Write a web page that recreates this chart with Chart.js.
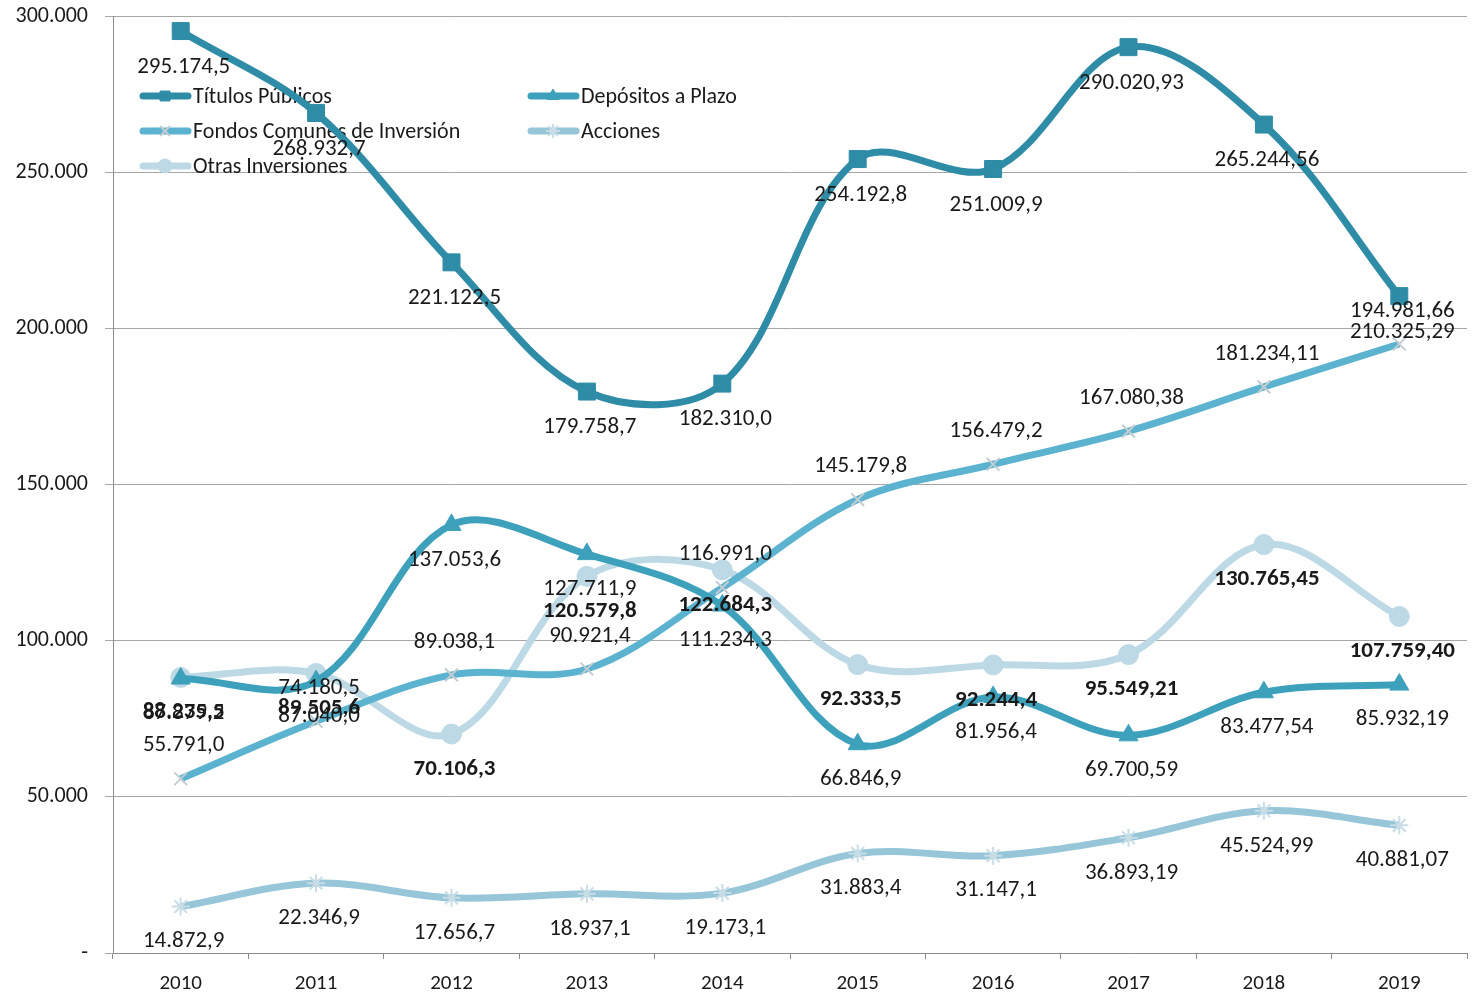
<!DOCTYPE html>
<html>
<head>
<meta charset="utf-8">
<script src="https://cdn.jsdelivr.net/npm/chart.js@4/dist/chart.umd.min.js"></script>
<style>
  html, body { margin: 0; padding: 0; background: #ffffff; }
  #wrap { width: 1480px; height: 996px; }
</style>
</head>
<body>
<div id="wrap"><canvas id="c" width="1480" height="996"></canvas></div>
<script>
// ---- Data ----
const years = ['2010', '2011', '2012', '2013', '2014', '2015', '2016', '2017', '2018', '2019'];
const titulosPublicos = [295174.5, 268932.7, 221122.5, 179758.7, 182310.0, 254192.8, 251009.9, 290020.93, 265244.56, 210325.29];
const depositosPlazo = [87879.2, 87040.0, 137053.6, 127711.9, 111234.3, 66846.9, 81956.4, 69700.59, 83477.54, 85932.19];
const fondosComunes = [55791.0, 74180.5, 89038.1, 90921.4, 116991.0, 145179.8, 156479.2, 167080.38, 181234.11, 194981.66];
const acciones = [14872.9, 22346.9, 17656.7, 18937.1, 19173.1, 31883.4, 31147.1, 36893.19, 45524.99, 40881.07];
const otrasInversiones = [88235.5, 89505.6, 70106.3, 120579.8, 122684.3, 92333.5, 92244.4, 95549.21, 130765.45, 107759.40];
const labelDecimals = [1, 1, 1, 1, 1, 1, 1, 2, 2, 2];
const seriesNames = ['Títulos Públicos', 'Depósitos a Plazo', 'Fondos Comunes de Inversión', 'Acciones', 'Otras Inversiones'];
const yMin = 0, yMax = 300000, yStep = 50000;

// ---- Helpers ----
const FONT = "Carlito, Calibri, 'Open Sans', sans-serif";
function fmt(v, d) {
  const neg = v < 0; v = Math.abs(v);
  const fixed = v.toFixed(d);
  let [ip, dp] = fixed.split('.');
  ip = ip.replace(/\B(?=(\d{3})+(?!\d))/g, '.');
  return (neg ? '-' : '') + ip + (dp !== undefined ? ',' + dp : '');
}

const colors = ['#2f8ca6', '#3ea1bc', '#5cb3cf', '#96c6d8', '#bcd9e5'];
const pointStyles = ['rect', 'triangle', 'crossRot', 'star', 'circle'];
const pointColors = ['#2f8ca6', '#3ea1bc', '#c3ccd1', '#c8dde6', '#bcd9e5'];
const pointRadii = [12, 11, 9, 9, 10];
const labelOffsets = [36, 35, -33, 35, 35];
const labelBold = [false, false, false, false, true];
const seriesData = [titulosPublicos, depositosPlazo, fondosComunes, acciones, otrasInversiones];

const datasets = seriesData.map((d, i) => ({
  label: seriesNames[i],
  data: d,
  borderColor: colors[i],
  backgroundColor: pointColors[i],
  borderWidth: 7,
  tension: 0.35,
  pointStyle: pointStyles[i],
  pointRadius: pointRadii[i],
  pointBorderColor: pointColors[i],
  pointBackgroundColor: pointColors[i],
  pointBorderWidth: (i === 2 || i === 3) ? 2 : 1,
  fill: false
}));

// ---- Custom legend (inside plot) ----
const legendPlugin = {
  id: 'insideLegend',
  beforeDatasetsDraw(chart) {
    const ctx = chart.ctx;
    const pos = [[140, 96], [528, 96], [140, 131], [528, 131], [140, 166]];
    ctx.save();
    chart.data.datasets.forEach((ds, i) => {
      const [x, y] = pos[i];
      ctx.strokeStyle = ds.borderColor;
      ctx.lineWidth = 7;
      ctx.lineCap = 'round';
      ctx.beginPath(); ctx.moveTo(x + 3, y); ctx.lineTo(x + 48, y); ctx.stroke();
      ctx.lineCap = 'butt';
      ctx.fillStyle = ds.pointBackgroundColor; ctx.strokeStyle = ds.pointBorderColor;
      ctx.lineWidth = ds.pointBorderWidth;
      Chart.helpers.drawPoint(ctx, {pointStyle: ds.pointStyle, radius: 7, rotation: 0, borderWidth: ds.pointBorderWidth}, x + 25, y);
      ctx.fillStyle = '#1a1a1a';
      ctx.font = '22px ' + FONT;
      ctx.textAlign = 'left';
      ctx.textBaseline = 'middle';
      ctx.fillText(ds.label, x + 53, y + 1);
    });
    ctx.restore();
  }
};

// ---- Data labels ----
const labelPlugin = {
  id: 'valueLabels',
  afterDatasetsDraw(chart) {
    const ctx = chart.ctx;
    ctx.save();
    ctx.textAlign = 'center';
    ctx.textBaseline = 'middle';
    ctx.fillStyle = '#1a1a1a';
    chart.data.datasets.forEach((ds, i) => {
      const meta = chart.getDatasetMeta(i);
      ctx.font = (labelBold[i] ? 'bold ' : '') + '23px ' + FONT;
      meta.data.forEach((pt, j) => {
        const txt = fmt(ds.data[j], labelDecimals[j]);
        ctx.fillText(txt, pt.x + 3, pt.y + labelOffsets[i]);
      });
    });
    ctx.restore();
  }
};

new Chart(document.getElementById('c'), {
  type: 'line',
  data: { labels: years, datasets: datasets },
  plugins: [legendPlugin, labelPlugin],
  options: {
    responsive: false,
    animation: false,
    devicePixelRatio: 1,
    layout: { padding: { top: 16, right: 2, left: 0, bottom: 0 } },
    plugins: { legend: { display: false }, tooltip: { enabled: false } },
    scales: {
      x: {
        type: 'category',
        offset: true,
        grid: { offset: true, drawOnChartArea: false, drawTicks: true, tickLength: 6, color: '#8c8c8c', lineWidth: 1 },
        border: { color: '#8c8c8c', width: 1 },
        ticks: { color: '#1a1a1a', font: { family: FONT, size: 21 }, padding: 12, maxRotation: 0 },
        afterFit(scale) { scale.height = 43; }
      },
      y: {
        min: yMin, max: yMax,
        ticks: {
          stepSize: yStep,
          color: '#1a1a1a',
          font: { family: FONT, size: 22 },
          padding: 17,
          callback: (v) => v === 0 ? '-' : fmt(v, 0)
        },
        grid: { color: '#a6a6a6', lineWidth: 1, tickLength: 8, drawTicks: true },
        border: { color: '#8c8c8c', width: 1 },
        afterFit(scale) { scale.width = 113; scale.paddingTop = 0; scale.paddingBottom = 0; }
      }
    }
  }
});
</script>
</body>
</html>
